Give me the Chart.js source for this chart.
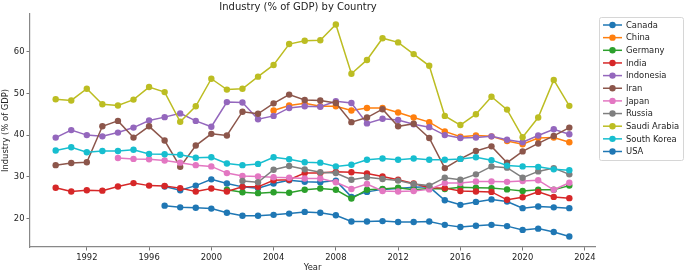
<!DOCTYPE html>
<html lang="en">
<head>
  <meta charset="UTF-8">
  <title>Industry (% of GDP) by Country</title>
  <script src="https://cdn.jsdelivr.net/npm/chart.js"></script>
  <style>
    html, body { margin: 0; padding: 0; background: #fff; }
    #wrap { width: 685px; height: 273px; }
  </style>
</head>
<body>
  <div id="wrap"><canvas id="grafico"></canvas></div>
  <script>
    // Data
    const years = [1990, 1991, 1992, 1993, 1994, 1995, 1996, 1997, 1998, 1999,
                   2000, 2001, 2002, 2003, 2004, 2005, 2006, 2007, 2008, 2009,
                   2010, 2011, 2012, 2013, 2014, 2015, 2016, 2017, 2018, 2019,
                   2020, 2021, 2022, 2023];
    const countries = ["Canada", "China", "Germany", "India", "Indonesia", "Iran",
                       "Japan", "Russia", "Saudi Arabia", "South Korea", "USA"];
    const xTicks = [1992, 1996, 2000, 2004, 2008, 2012, 2016, 2020, 2024];
    const yTicks = [20, 30, 40, 50, 60];

    const canada = [null, null, null, null, null, null, null, 27.7, 26.8, 27.9,
                    29.4, 28.4, 27.6, 27.3, 28.4, 29.2, 28.8, 28.7, 29.1, 25.2,
                    26.4, 27.0, 27.2, 27.5, 27.6, 24.4, 23.3, 24.0, 24.6, 24.1,
                    22.5, 22.9, 22.7, 22.5];
    const china = [null, null, null, null, null, null, null, null, null, null,
                   null, null, null, null, 45.9, 47.1, 47.6, 46.9, 46.9, 45.9,
                   46.5, 46.5, 45.4, 44.2, 43.1, 40.9, 39.6, 39.9, 39.7, 38.6,
                   37.8, 39.3, 39.4, 38.3];
    const germany = [null, null, null, null, null, null, null, null, null, null,
                     null, 26.9, 26.3, 26.1, 26.3, 26.2, 26.9, 27.2, 26.9, 24.8,
                     26.9, 27.1, 27.4, 26.9, 27.2, 27.1, 27.5, 27.4, 27.3, 27.0,
                     26.6, 26.9, 26.9, 27.9];
    const india = [27.4, 26.5, 26.8, 26.7, 27.7, 28.5, 27.9, 27.8, 27.3, 26.5,
                   27.2, 26.5, 27.6, 27.6, 29.2, 29.3, 30.9, 30.9, 31.2, 31.1,
                   30.8, 30.1, 29.3, 28.4, 27.4, 27.3, 26.6, 26.5, 26.4, 24.5,
                   25.1, 26.4, 25.2, 24.9];
    const indonesia = [39.4, 41.2, 40.0, 39.7, 40.6, 41.8, 43.5, 44.3, 45.2, 43.4,
                       42.0, 47.9, 47.8, 43.8, 44.6, 46.5, 46.9, 46.8, 48.1, 47.7,
                       42.8, 43.9, 43.6, 42.6, 41.9, 40.0, 39.3, 39.4, 39.7, 38.9,
                       38.3, 39.9, 41.4, 40.2];
    const iran = [32.8, 33.3, 33.5, 42.1, 43.4, 39.4, 42.1, 38.7, 32.4, 37.5,
                  40.3, 39.9, 45.6, 45.1, 47.6, 49.7, 48.4, 48.3, 47.7, 43.1,
                  44.2, 46.2, 42.1, 42.7, 39.3, 32.1, 34.3, 36.2, 37.3, 33.4,
                  36.1, 38.0, 39.8, 41.8];
    const japan = [null, null, null, null, 34.5, 34.3, 34.2, 33.9, 33.4, 32.8,
                   32.5, 30.9, 30.2, 30.1, 29.9, 29.8, 29.6, 29.6, 28.7, 27.1,
                   28.3, 26.6, 26.5, 26.6, 27.0, 28.5, 28.5, 28.9, 28.9, 28.8,
                   29.0, 29.2, 26.9, 28.6];
    const russia = [null, null, null, null, null, null, null, null, null, null,
                    null, null, 29.0, 28.7, 31.7, 32.6, 31.8, 31.1, 30.9, 29.3,
                    29.9, 29.5, 29.1, 28.3, 27.9, 29.8, 29.3, 30.6, 32.5, 32.2,
                    29.8, 31.3, 32.1, 30.6];
    const saudiArabia = [48.6, 48.3, 51.1, 47.4, 47.1, 48.5, 51.5, 50.3, 43.2, 46.9,
                         53.5, 50.9, 51.1, 54.0, 56.8, 61.8, 62.6, 62.7, 66.5, 54.7,
                         58.0, 63.2, 62.2, 59.4, 56.6, 44.6, 42.4, 45.0, 49.2, 46.1,
                         39.5, 44.2, 53.2, 47.0];
    const southKorea = [36.3, 37.1, 35.9, 36.2, 36.2, 36.5, 35.5, 35.4, 35.3, 34.6,
                        34.7, 33.2, 32.8, 33.1, 34.7, 34.2, 33.5, 33.4, 32.5, 32.9,
                        34.1, 34.4, 34.1, 34.4, 34.1, 34.1, 34.3, 34.7, 34.0, 32.7,
                        32.5, 32.4, 31.8, 31.6];
    const usa = [null, null, null, null, null, null, null, 23.1, 22.7, 22.6,
                 22.4, 21.4, 20.7, 20.7, 20.9, 21.2, 21.6, 21.4, 20.8, 19.3,
                 19.3, 19.4, 19.2, 19.2, 19.3, 18.5, 18.0, 18.3, 18.5, 18.2,
                 17.3, 17.6, 16.8, 15.7];

    const series = [canada, china, germany, india, indonesia, iran,
                    japan, russia, saudiArabia, southKorea, usa];
    const cores = ["#1f77b4", "#ff7f0e", "#2ca02c", "#d62728", "#9467bd", "#8c564b",
                   "#e377c2", "#7f7f7f", "#bcbd22", "#17becf", "#1f77b4"];

    const fonte = "'DejaVu Sans', sans-serif";

    const datasets = countries.map((nome, i) => ({
      label: nome,
      data: years.map((ano, j) => ({ x: ano, y: series[i][j] })),
      borderColor: cores[i],
      backgroundColor: cores[i],
      borderWidth: 1.5,
      pointRadius: 3.2,
      pointBorderWidth: 0,
      pointHoverRadius: 3.2,
      spanGaps: false,
      order: -i
    }));

    // Legend in a box to the right of the axes, like matplotlib's
    const legendaPlugin = {
      id: "legendaCaixa",
      afterDraw(chart) {
        const ctx = chart.ctx;
        const x0 = 599, y0 = 17, w = 84, h = 143, passo = 12.65;
        ctx.save();
        ctx.fillStyle = "rgba(255,255,255,0.9)";
        ctx.strokeStyle = "#d6d6d6";
        ctx.lineWidth = 1;
        ctx.beginPath();
        ctx.roundRect(x0 + 0.5, y0 + 0.5, w, h, 2);
        ctx.fill();
        ctx.stroke();
        ctx.font = "8.4px " + fonte;
        ctx.textBaseline = "middle";
        chart.data.datasets.forEach((ds, i) => {
          const y = y0 + 8 + i * passo;
          ctx.strokeStyle = ds.borderColor;
          ctx.lineWidth = 1.5;
          ctx.beginPath();
          ctx.moveTo(603, y);
          ctx.lineTo(622, y);
          ctx.stroke();
          ctx.fillStyle = ds.borderColor;
          ctx.beginPath();
          ctx.arc(612.5, y, 3.2, 0, Math.PI * 2);
          ctx.fill();
          ctx.fillStyle = "#222";
          ctx.fillText(ds.label, 626, y + 0.5);
        });
        ctx.restore();
      }
    };

    new Chart(document.getElementById("grafico"), {
      type: "line",
      data: { datasets: datasets },
      plugins: [legendaPlugin],
      options: {
        responsive: true,
        maintainAspectRatio: false,
        animation: false,
        events: [],
        layout: { padding: { left: 1, right: 90, top: 0, bottom: 0 } },
        plugins: {
          legend: { display: false },
          tooltip: { enabled: false },
          title: {
            display: true,
            text: "Industry (% of GDP) by Country",
            color: "#222",
            font: { family: fonte, size: 10, weight: "normal" },
            padding: { top: 1, bottom: 1 }
          }
        },
        scales: {
          x: {
            type: "linear",
            min: 1988.35,
            max: 2024.65,
            afterBuildTicks: (s) => { s.ticks = xTicks.map(v => ({ value: v })); },
            afterFit: (s) => { s.height = 26; },
            grid: { display: true, drawOnChartArea: false, tickLength: 3.5, color: "#555", tickWidth: 0.8 },
            border: { display: true, color: "#888", width: 1.2 },
            ticks: { color: "#222", padding: 2, maxRotation: 0, font: { family: fonte, size: 8.4 },
                     callback: (v) => String(v) },
            title: { display: true, text: "Year", color: "#222", padding: 0,
                     font: { family: fonte, size: 8.4 } }
          },
          y: {
            min: 13.2,
            max: 69.0,
            afterBuildTicks: (s) => { s.ticks = yTicks.map(v => ({ value: v })); },
            afterFit: (s) => { s.width = 29; },
            grid: { display: true, drawOnChartArea: false, tickLength: 3.5, color: "#555", tickWidth: 0.8 },
            border: { display: true, color: "#888", width: 1.2 },
            ticks: { color: "#222", padding: 2, font: { family: fonte, size: 8.4 } },
            title: { display: true, text: "Industry (% of GDP)", color: "#222", padding: 0,
                     font: { family: fonte, size: 8.4 } }
          }
        }
      }
    });
  </script>
</body>
</html>
